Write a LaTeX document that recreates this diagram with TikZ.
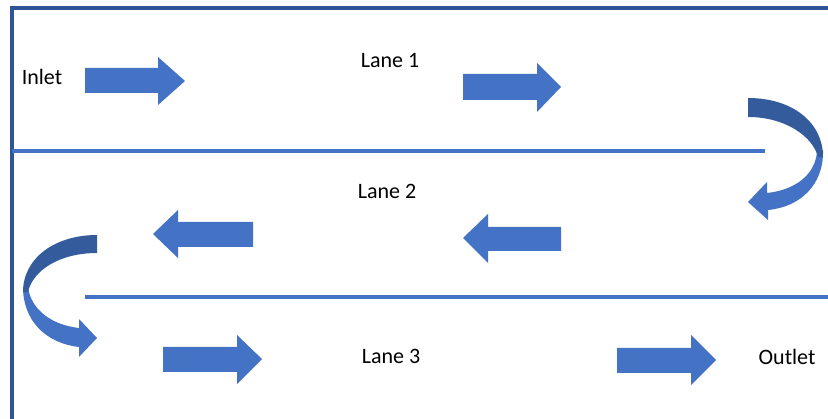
\documentclass[tikz,border=0pt]{standalone}
\usepackage{fontspec}
\setmainfont{Carlito}
\definecolor{framec}{HTML}{2F5597}
\definecolor{lanec}{HTML}{4472C4}
\definecolor{arrowc}{HTML}{4472C4}
\definecolor{darkc}{HTML}{345C9C}
\begin{document}
\begin{tikzpicture}[x=1pt,y=-1pt,
  framel/.style={draw=framec,line width=3.2pt},
  lanel/.style={draw=lanec,line width=3.2pt},
  blockarrow/.style={fill=arrowc},
  curvdark/.style={fill=darkc},
  curvlight/.style={fill=arrowc},
  lbl/.style={font=\fontsize{22}{26}\selectfont,text=black,inner sep=0pt}]
\useasboundingbox (0,0) rectangle (828,419);
\fill[white] (0,0) rectangle (828,419);
% frame
\coordinate (tl) at (12,8);
\coordinate (tr) at (828,8);
\coordinate (bl) at (12,419);
\draw[framel] (tr) -- (tl) -- (bl);
% lane separators
\coordinate (l1a) at (12,151);
\coordinate (l1b) at (765,151);
\coordinate (l2a) at (85,297);
\coordinate (l2b) at (828,297);
\draw[lanel] (l1a) -- (l1b);
\draw[lanel] (l2a) -- (l2b);
% labels
\node[lbl] (inlet) at (42,77) {Inlet};
\node[lbl] (lane1) at (390,61) {Lane 1};
\node[lbl] (lane2) at (387,191) {Lane 2};
\node[lbl] (lane3) at (391,356) {Lane 3};
\node[lbl] (outlet) at (787,357) {Outlet};
% lane 1 arrows
\fill[blockarrow] (85,68) -- (158,68) -- (158,57) -- (185,81) -- (158,105) -- (158,93) -- (85,93) -- cycle;
\fill[blockarrow] (463,74) -- (537,74) -- (537,63) -- (561,87) -- (537,112) -- (537,100) -- (463,100) -- cycle;
% lane 2 arrows
\fill[blockarrow] (253,222) -- (178,222) -- (178,210) -- (153,234) -- (178,258) -- (178,247) -- (253,247) -- cycle;
\fill[blockarrow] (561,227) -- (488,227) -- (488,214) -- (463,238) -- (488,263) -- (488,251) -- (561,251) -- cycle;
% lane 3 arrows
\fill[blockarrow] (163,347) -- (237,347) -- (237,335) -- (262,359) -- (237,384) -- (237,372) -- (163,372) -- cycle;
\fill[blockarrow] (617,348) -- (691,348) -- (691,335) -- (716,360) -- (691,385) -- (691,373) -- (617,373) -- cycle;
% right curved arrow
\fill[curvlight] (823,150) .. controls (824,185) and (800,207) .. (768,210) -- (768,220) -- (748,202) -- (767,182) -- (767,193) .. controls (795,190) and (815,175) .. (817,152) -- cycle;
\fill[curvdark] (748,98) .. controls (792,98) and (823,122) .. (823,157) -- (818,157) .. controls (813,137) and (786,117) .. (748,117) -- cycle;
% left curved arrow
\fill[curvlight] (23,287) .. controls (23,320) and (45,343) .. (79,347) -- (79,357) -- (97,338) -- (79,319) -- (79,328) .. controls (52,325) and (31,310) .. (28,287) -- cycle;
\fill[curvdark] (97,235) .. controls (55,235) and (23,258) .. (23,292) -- (28,292) .. controls (33,270) and (60,253) .. (97,253) -- cycle;
\end{tikzpicture}
\end{document}
